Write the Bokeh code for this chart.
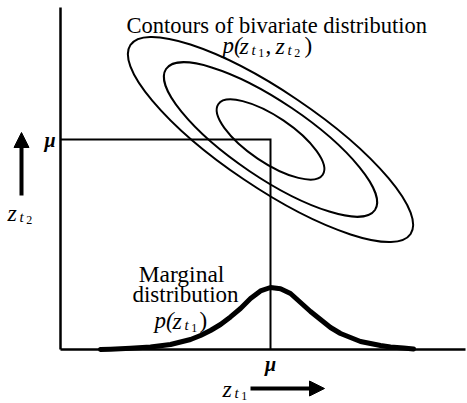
import math

from bokeh.plotting import figure
from bokeh.models import Range1d, LinearAxis, FixedTicker, Label, Arrow, NormalHead
from bokeh.embed import file_html
from bokeh.resources import INLINE

# canvas size and where the origin of the axes sits on it (pixels)
W, H = 467, 403
ORIGIN_PX, ORIGIN_PY = 60, 349
FONT = "Liberation Serif"

# axis extents in data units (both axes share one scale)
X_END = 405
Y_END = 342

# common mean of z_t1 and z_t2
MU = 210

# contours of the bivariate density: semi-axes and tilt of the major axis
contour_major = [169, 126, 63]
contour_minor = [48, 38, 23]
contour_tilt_deg = -34

# marginal density p(z_t1) along the z_t1 axis
marg_x = [40, 50, 70, 90, 110, 130, 140, 150, 160, 170, 180, 190, 200, 210,
          220, 230, 240, 250, 260, 270, 280, 290, 300, 310, 320, 330, 343, 353]
marg_y = [0, 0.3, 1.3, 2.6, 5, 10, 14, 19, 25, 32.6, 41, 51, 58.6, 62,
          60.7, 56, 47, 38, 30, 22, 16, 12, 8, 6, 4, 2.5, 1.5, 0.5]

p = figure(width=W, height=H,
           x_range=Range1d(-ORIGIN_PX, W - ORIGIN_PX),
           y_range=Range1d(ORIGIN_PY - H, ORIGIN_PY),
           x_axis_type=None, y_axis_type=None, min_border=0,
           toolbar_location=None, output_backend="svg")
p.outline_line_color = None
p.background_fill_color = "white"
p.border_fill_color = "white"


def mu_axis(side, standoff, end):
    ax = LinearAxis(ticker=FixedTicker(ticks=[MU]),
                    major_label_overrides={MU: "μ"},
                    fixed_location=0, bounds=(0, end),
                    axis_line_width=2.5, axis_line_color="black",
                    major_tick_in=0, major_tick_out=0,
                    minor_tick_in=0, minor_tick_out=0,
                    major_label_standoff=standoff,
                    major_label_text_font=FONT,
                    major_label_text_font_size="20px",
                    major_label_text_font_style="bold italic",
                    major_label_text_color="black")
    p.add_layout(ax, side)


mu_axis("left", 5, Y_END)
mu_axis("below", 3, X_END)

# guide lines from the axes to (mu, mu)
p.line([0, MU, MU], [MU, MU, 0], line_width=2, line_color="black", line_join="miter")

# bivariate contours
p.ellipse(x=[MU] * len(contour_major), y=[MU] * len(contour_major),
          width=[2 * a for a in contour_major],
          height=[2 * b for b in contour_minor],
          angle=math.radians(contour_tilt_deg),
          fill_color=None, line_color="black", line_width=2)

# marginal density
p.line(marg_x, marg_y, line_width=5, line_color="black",
       line_join="round", line_cap="round")


def put(txt, px, py, size, style="normal", align="left"):
    """Place text with its baseline at canvas pixel (px, py)."""
    p.add_layout(Label(x=px - ORIGIN_PX, y=ORIGIN_PY - py, text=txt,
                       text_font=FONT, text_font_size=f"{size}px",
                       text_font_style=style, text_color="black",
                       text_align=align, text_baseline="alphabetic"))


def z_sub(px, py, digit, size=24):
    """z with subscript t and sub-subscript digit."""
    put("z", px, py, size, "italic")
    put("t", px + 0.5 * size, py + 0.2 * size, round(size * 0.62), "italic")
    put(digit, px + 0.78 * size, py + 0.32 * size, round(size * 0.5))


put("Contours of bivariate distribution", 126, 25, 22.5)

# p(z_t1, z_t2)
put("p(", 222, 45, 23, "italic")
z_sub(239, 45, "1", 24)
put(",", 265, 45, 23)
z_sub(275, 45, "2", 24)
put(")", 304, 45, 23)

put("Marginal", 181, 273, 23.5, align="center")
put("distribution", 185, 294, 23, align="center")
put("p(", 154, 320, 23, "italic")
z_sub(172, 320, "1", 24)
put(")", 199, 320, 23)

# axis names with direction arrows
z_sub(7, 212, "2")
z_sub(222, 388, "1")

head = dict(size=15, fill_color="black", line_color="black", line_width=1)
p.add_layout(Arrow(end=NormalHead(**head),
                   x_start=21 - ORIGIN_PX, y_start=ORIGIN_PY - 195,
                   x_end=21 - ORIGIN_PX, y_end=ORIGIN_PY - 132,
                   line_width=4, line_color="black"))
p.add_layout(Arrow(end=NormalHead(**head),
                   x_start=250 - ORIGIN_PX, y_start=ORIGIN_PY - 388,
                   x_end=324 - ORIGIN_PX, y_end=ORIGIN_PY - 388,
                   line_width=4, line_color="black"))

open("out.html", "w").write(file_html(p, INLINE))
